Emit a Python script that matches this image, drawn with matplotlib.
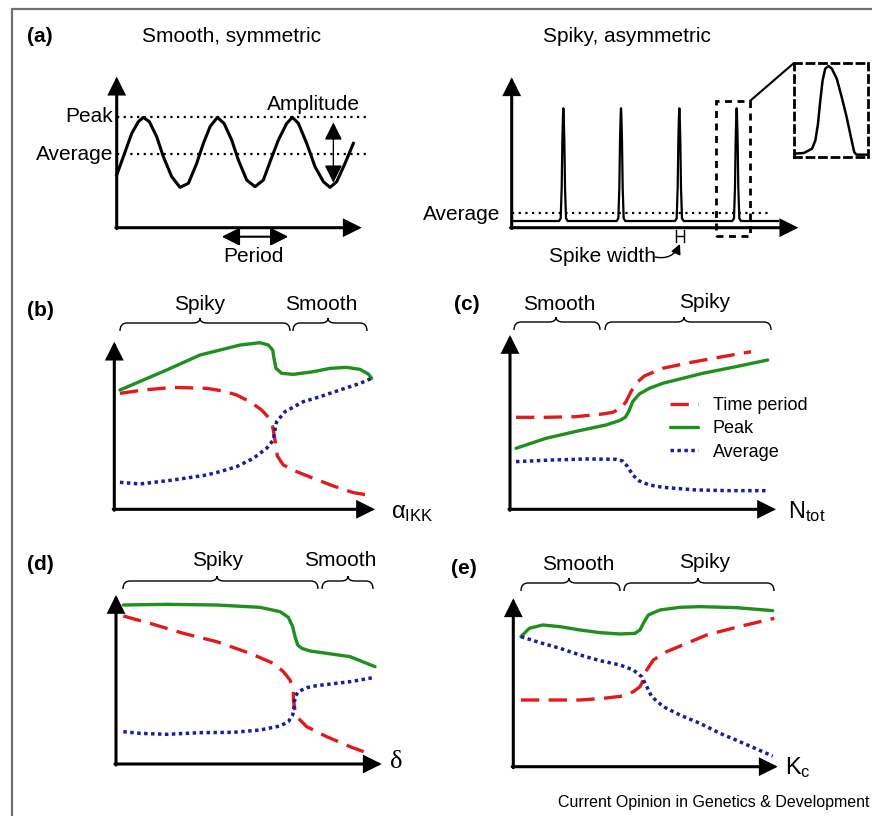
# NF-kB oscillation schematic: smooth vs spiky regimes
import matplotlib.pyplot as plt
from matplotlib.path import Path
from matplotlib.patches import PathPatch, Rectangle, ConnectionPatch

plt.rcParams['font.family'] = 'Liberation Sans'
plt.rcParams['mathtext.fontset'] = 'custom'
plt.rcParams['mathtext.rm'] = 'Liberation Sans'
plt.rcParams['mathtext.it'] = 'Liberation Sans:italic'

# =====================
# Data (sketch units: x along the axis, y above the x axis)
# =====================

# (a) smooth, symmetric oscillation
wave_x = [0, 20, 45, 65, 80, 98, 120, 140, 165, 190, 215, 240, 260, 280, 302, 322,
          345, 365, 390, 415, 440, 462, 485, 510, 527, 545, 570, 595, 620, 640, 660, 685, 710]
wave_y = [158, 213, 283, 318, 331, 318, 273, 213, 153, 121, 133, 193, 253, 303, 331, 313,
          263, 203, 143, 123, 143, 203, 263, 313, 331, 313, 253, 183, 138, 121, 138, 193, 253]
peak_level = 331
avg_level = 221

# (a) spiky, asymmetric oscillation
spike_centers = [155, 328, 503, 675]
spike_dx = [-13, -8, -5, -3, -1, 0, 1, 3, 5, 8, 13]
spike_dy = [20, 28, 120, 260, 340, 358, 340, 260, 120, 28, 20]
spiky_base = 20
spiky_end = 800
spiky_avg = 43

# zoomed spike (inset)
inset_x = [0, 30, 55, 65, 73, 80, 87, 95, 105, 115, 130, 145, 160, 173, 183, 190, 220]
inset_y = [10, 12, 25, 50, 100, 170, 230, 265, 273, 265, 235, 180, 120, 60, 15, 7, 7]

# (b) alpha_IKK
b_peak_x = [17, 87, 157, 257, 317, 377, 437, 462, 475, 479, 485, 502, 537, 597, 647, 697, 737, 762, 772]
b_peak_y = [358, 388, 418, 463, 478, 493, 500, 493, 478, 453, 423, 408, 405, 413, 423, 426, 420, 406, 393]
b_per_x = [17, 87, 177, 277, 327, 367, 407, 442, 462, 475, 482, 489, 507, 547, 597, 657, 717, 772]
b_per_y = [348, 358, 366, 363, 355, 343, 323, 298, 276, 248, 208, 160, 133, 113, 93, 70, 50, 41]
b_avg_x = [17, 77, 177, 277, 317, 367, 417, 457, 477, 482, 487, 512, 567, 617, 677, 737, 772]
b_avg_y = [81, 76, 88, 103, 113, 128, 153, 183, 208, 238, 263, 293, 323, 338, 358, 378, 393]

# (c) N_tot
c_per_x = [18, 108, 198, 278, 308, 333, 348, 363, 378, 403, 458, 538, 638, 723]
c_per_y = [276, 276, 278, 286, 291, 303, 323, 353, 378, 400, 423, 440, 458, 473]
c_peak_x = [18, 108, 208, 288, 328, 346, 356, 368, 388, 418, 458, 578, 678, 773]
c_peak_y = [183, 213, 236, 253, 266, 276, 293, 323, 346, 363, 378, 408, 428, 448]
c_avg_x = [18, 128, 228, 318, 338, 353, 368, 388, 418, 458, 558, 658, 768]
c_avg_y = [143, 148, 151, 150, 145, 128, 103, 85, 73, 66, 58, 56, 56]

# (d) delta
d_peak_x = [22, 152, 302, 432, 492, 517, 530, 537, 545, 557, 582, 632, 702, 752, 777]
d_peak_y = [477, 479, 477, 470, 457, 440, 412, 382, 357, 347, 339, 332, 322, 302, 292]
d_per_x = [22, 102, 202, 302, 402, 472, 502, 522, 532, 532, 537, 547, 572, 632, 702, 762]
d_per_y = [444, 422, 392, 367, 332, 302, 277, 252, 222, 192, 162, 137, 112, 82, 52, 30]
d_avg_x = [22, 72, 152, 252, 352, 432, 492, 517, 530, 534, 537, 547, 572, 602, 702, 777]
d_avg_y = [97, 92, 89, 94, 95, 102, 114, 127, 147, 172, 202, 217, 229, 235, 247, 260]

# (e) K_c
e_peak_x = [23, 48, 88, 140, 200, 260, 320, 365, 380, 390, 405, 440, 500, 560, 668, 778]
e_peak_y = [390, 415, 425, 420, 410, 402, 398, 400, 410, 430, 455, 470, 478, 480, 477, 468]
e_per_x = [23, 140, 200, 270, 330, 360, 380, 390, 400, 420, 460, 520, 580, 668, 783]
e_per_y = [200, 200, 200, 205, 212, 225, 240, 260, 290, 320, 345, 370, 395, 418, 445]
e_avg_x = [23, 80, 140, 200, 260, 320, 360, 385, 398, 415, 450, 500, 560, 620, 668, 778]
e_avg_y = [390, 372, 355, 335, 318, 305, 290, 270, 245, 210, 180, 155, 130, 100, 80, 32]

# =====================
# Styles
# =====================
W, H = 872, 816
RED = '#e01b1b'
GREEN = '#1f8f1f'
BLUE = '#1c1c9e'
FS = 15

fig = plt.figure(figsize=(W / 100, H / 100), dpi=100)

# overlay in pixel units for the frame, text and braces
over = fig.add_axes([0, 0, 1, 1])
over.set_xlim(0, W)
over.set_ylim(H, 0)
over.axis('off')

over.plot([12, 12, W], [H, 9, 9], color='#707070', lw=1.6, solid_joinstyle='miter')


def panel_axes(left, top, right, bottom, xmax, ymax):
    ax = fig.add_axes([left / W, 1 - bottom / H, (right - left) / W, (bottom - top) / H])
    ax.set_xlim(0, xmax)
    ax.set_ylim(0, ymax)
    ax.axis('off')
    arrow = dict(arrowstyle='-|>,head_length=1.0,head_width=0.5', lw=2.2, color='k',
                 mutation_scale=10, shrinkA=0, shrinkB=0, joinstyle='miter')
    ax.annotate('', xy=(1, 0), xytext=(-0.004, 0), xycoords='axes fraction', arrowprops=arrow)
    ax.annotate('', xy=(0, 1), xytext=(0, -0.006), xycoords='axes fraction', arrowprops=arrow)
    return ax


def brace(x0, x1, xm, y, hook=8, tip=5, r=7):
    verts = [(x0, y + hook), (x0, y), (x0 + r, y),
             (xm - r, y), (xm, y), (xm, y - tip),
             (xm, y), (xm + r, y),
             (x1 - r, y), (x1, y), (x1, y + hook)]
    codes = [Path.MOVETO, Path.CURVE3, Path.CURVE3,
             Path.LINETO, Path.CURVE3, Path.CURVE3,
             Path.CURVE3, Path.CURVE3,
             Path.LINETO, Path.CURVE3, Path.CURVE3]
    over.add_patch(PathPatch(Path(verts, codes), fill=False, lw=1.0, color='k'))


def three_curves(ax, px, py, tx, ty, ax_, ay, label=False):
    ax.plot(tx, ty, color=RED, lw=2.4, ls=(0, (5.5, 2.8)), clip_on=False,
            label='Time period' if label else None)
    ax.plot(px, py, color=GREEN, lw=2.4, clip_on=False, solid_capstyle='round',
            solid_joinstyle='round', label='Peak' if label else None)
    ax.plot(ax_, ay, color=BLUE, lw=2.5, ls=(0, (1, 1)), clip_on=False,
            label='Average' if label else None)


def label(x, y, s, ha='center', **kw):
    over.text(x, y, s, ha=ha, va='center', fontsize=kw.pop('fontsize', FS), **kw)


# =====================
# (a) smooth, symmetric
# =====================
a1 = panel_axes(116.7, 76.7, 361.7, 227.7, 735, 453)
a1.plot(wave_x, wave_y, color='k', lw=2.2, clip_on=False, solid_joinstyle='round')
a1.plot([0, 750], [peak_level, peak_level], color='k', lw=1.6, ls=(0, (1, 2)), clip_on=False)
a1.plot([0, 750], [avg_level, avg_level], color='k', lw=1.6, ls=(0, (1, 2)), clip_on=False)
a1.annotate('', xy=(650, 316), xytext=(650, 135),
            arrowprops=dict(arrowstyle='<|-|>,head_length=0.9,head_width=0.45', lw=1.0,
                            color='k', mutation_scale=12, shrinkA=0, shrinkB=0))
a1.annotate('', xy=(315, -27), xytext=(515, -27), annotation_clip=False,
            arrowprops=dict(arrowstyle='<|-|>,head_length=0.9,head_width=0.45', lw=1.5,
                            color='k', mutation_scale=12, shrinkA=0, shrinkB=0))

label(27, 36, '(a)', ha='left', fontweight='bold')
label(231, 36, 'Smooth, symmetric')
label(113, 117, 'Peak', ha='right')
label(113, 154, 'Average', ha='right')
label(313, 104, 'Amplitude')
label(253, 257, 'Period')

# =====================
# (a) spiky, asymmetric
# =====================
a2 = panel_axes(511.7, 77.3, 798.3, 227.7, 860, 451)
sx, sy = [0], [spiky_base]
for c in spike_centers:
    sx += [c + d for d in spike_dx]
    sy += spike_dy
sx.append(spiky_end)
sy.append(spiky_base)
a2.plot(sx, sy, color='k', lw=1.6, clip_on=False)
a2.plot([0, 775], [spiky_avg, spiky_avg], color='k', lw=1.6, ls=(0, (1, 2)), clip_on=False)
a2.add_patch(Rectangle((612, -25), 103, 405, fill=False, lw=2.0, ls=(0, (2.5, 2)),
                       color='k', clip_on=False))
# spike width marker
a2.plot([493, 493], [-7, -42], color='k', lw=1.0, clip_on=False)
a2.plot([518, 518], [-7, -42], color='k', lw=1.0, clip_on=False)
a2.plot([493, 518], [-25, -25], color='k', lw=1.0, clip_on=False)

ins = fig.add_axes([794 / W, 1 - 157 / H, 74 / W, 94 / H])
ins.set_xlim(0, 225)
ins.set_ylim(0, 282)
ins.set_xticks([])
ins.set_yticks([])
ins.patch.set_alpha(0)
for sp in ins.spines.values():
    sp.set_linestyle((0, (2.5, 2)))
    sp.set_linewidth(2.0)
ins.plot(inset_x, inset_y, color='k', lw=1.8)
fig.add_artist(ConnectionPatch(xyA=(715, 380), coordsA=a2.transData, xyB=(0, 1),
                               coordsB=ins.transAxes, color='k', lw=1.5))

label(627, 36, 'Spiky, asymmetric')
label(500, 214, 'Average', ha='right')
label(602, 257, 'Spike width')
over.annotate('', xy=(680, 244), xytext=(655, 257),
              arrowprops=dict(arrowstyle='-|>,head_length=0.6,head_width=0.3', lw=1.0,
                              color='k', mutation_scale=10, shrinkA=0, shrinkB=0,
                              connectionstyle='arc3,rad=0.4'))

# =====================
# (b) alpha_IKK
# =====================
b = panel_axes(114.3, 341.7, 375, 509.3, 782, 503)
three_curves(b, b_peak_x, b_peak_y, b_per_x, b_per_y, b_avg_x, b_avg_y)
label(27, 310, '(b)', ha='left', fontweight='bold')
label(200, 304, 'Spiky')
label(321, 304, 'Smooth')
brace(120, 290, 200, 323)
brace(293, 367, 328, 323)
label(391, 513, r'$\mathrm{\alpha_{IKK}}$', ha='left', fontsize=17)

# =====================
# (c) N_tot
# =====================
c = panel_axes(510, 335, 776, 509.3, 798, 523)
three_curves(c, c_peak_x, c_peak_y, c_per_x, c_per_y, c_avg_x, c_avg_y, label=True)
c.legend(loc='upper left', bbox_to_anchor=(0.60, 0.645), frameon=False, fontsize=13,
         handlelength=1.6, handletextpad=0.8, labelspacing=0.35, borderpad=0,
         borderaxespad=0)
label(454, 305, '(c)', ha='left', fontweight='bold')
label(559, 305, 'Smooth')
label(705, 303, 'Spiky')
brace(514, 600, 556, 322)
brace(605, 771, 684, 322)
label(788, 512, r'$\mathrm{N_{tot}}$', ha='left', fontsize=17)

# =====================
# (d) delta
# =====================
d = panel_axes(116, 595, 381.7, 764, 797, 507)
three_curves(d, d_peak_x, d_peak_y, d_per_x, d_per_y, d_avg_x, d_avg_y)
label(27, 565, '(d)', ha='left', fontweight='bold')
label(218, 560, 'Spiky')
label(340, 560, 'Smooth')
brace(123, 318, 217, 581)
brace(322, 373, 348, 581)
label(390, 762, 'δ', ha='left', fontsize=19, family='Liberation Serif')

# =====================
# (e) K_c
# =====================
e = panel_axes(513.3, 598.3, 777.7, 766.7, 793, 505)
three_curves(e, e_peak_x, e_peak_y, e_per_x, e_per_y, e_avg_x, e_avg_y)
label(451, 568, '(e)', ha='left', fontweight='bold')
label(578, 565, 'Smooth')
label(705, 562, 'Spiky')
brace(521, 620, 569, 583)
brace(624, 774, 698, 583)
label(785, 768, r'$\mathrm{K_c}$', ha='left', fontsize=17)

label(869, 802, 'Current Opinion in Genetics & Development', ha='right', fontsize=11.5)

fig.savefig('out.png', dpi=100)
